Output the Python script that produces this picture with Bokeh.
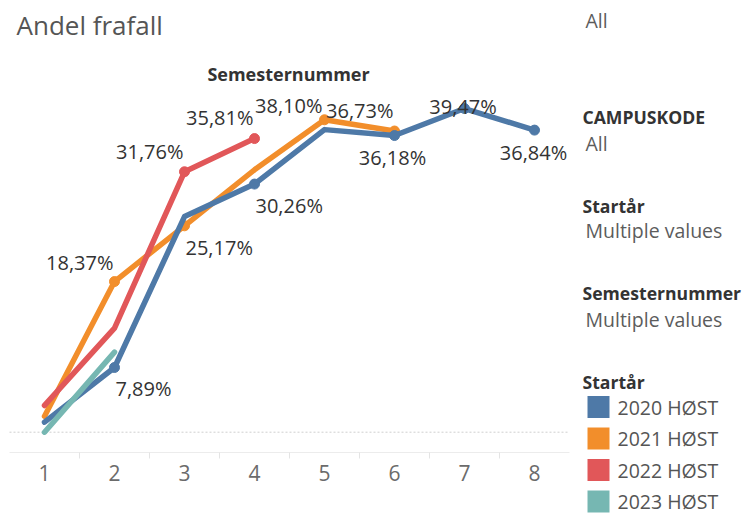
from bokeh.plotting import figure
from bokeh.models import Range1d, FixedTicker, ColumnDataSource
from bokeh.embed import file_html
from bokeh.resources import INLINE
from bokeh.core.properties import value

# ---------------- data ----------------
semesters = [1, 2, 3, 4, 5, 6, 7, 8]
tick_labels = ["1", "2", "3", "4", "5", "6", "7", "8"]
series_names = ["2020 HØST", "2021 HØST", "2022 HØST", "2023 HØST"]
v2020 = [1.22, 7.89, 26.3, 30.26, 36.9, 36.18, 39.47, 36.84]
v2021 = [1.95, 18.37, 25.17, 32.0, 38.10, 36.73]
v2022 = [3.26, 12.7, 31.76, 35.81]
v2023 = [0.0, 9.76]
labeled_2020 = [2, 4, 6, 7, 8]
labeled_2021 = [2, 3, 5, 6]
labeled_2022 = [3, 4]
labeled_2023 = []
filter_titles = ["CAMPUSKODE", "Startår", "Semesternummer"]
filter_values = ["All", "All", "Multiple values", "Multiple values"]
title_text = "Andel frafall"
axis_title = "Semesternummer"
legend_title = "Startår"

# ---------------- style ----------------
colors = ["#4e79a7", "#f28e2b", "#e15759", "#76b7b2"]
FONT = "Open Sans"
# label placement per (series index, semester): (align, dx px, dy px), dy downwards
label_place = {
    (0, 2): ("left", 1, 21), (0, 4): ("left", 1, 21.5), (0, 6): ("center", -2, 22),
    (0, 7): ("center", -1.5, -2), (0, 8): ("center", -1, 22),
    (1, 2): ("right", -1, -19), (1, 3): ("left", 1, 21.5), (1, 5): ("right", -2, -14),
    (1, 6): ("right", -1, -21),
    (2, 3): ("right", -1, -20), (2, 4): ("right", -1, -21),
}

W, H = 743, 514
AXIS_Y = 452                      # canvas y of the category axis line
PX, PY = 70.0, 8.2                # px per semester, px per percent
X_HALF = 9                        # canvas x of semester 0.5
ZERO_Y = 431.7                    # canvas y of 0 %
def sx(px):
    return 0.5 + (px - X_HALF) / PX
def sy(py):
    return (ZERO_Y - py) / PY

p = figure(width=W, height=H, output_backend="svg", toolbar_location=None,
           x_range=Range1d(sx(0), sx(W)), y_range=Range1d(sy(H), sy(0)),
           y_axis_location=None, min_border=0, min_border_left=0,
           min_border_right=0, min_border_top=0, min_border_bottom=0)
p.outline_line_color = None
p.xgrid.visible = False
p.ygrid.visible = False
p.background_fill_color = "white"
p.border_fill_color = "white"

# zero reference line across the category band
p.segment(x0=[semesters[0] - 0.5], y0=[0], x1=[semesters[-1] + 0.5], y1=[0],
          line_color="#cfcfcf", line_width=1, line_dash="2 2")

ax = p.xaxis[0]
ax.fixed_location = sy(AXIS_Y)
ax.bounds = (semesters[0] - 0.5, semesters[-1] + 0.5)
ax.ticker = FixedTicker(ticks=semesters, minor_ticks=[s + 0.5 for s in semesters[:-1]])
ax.major_label_overrides = {s: t for s, t in zip(semesters, tick_labels)}
ax.major_tick_line_color = None
ax.major_tick_in = 0
ax.major_tick_out = 0
ax.minor_tick_in = 0
ax.minor_tick_out = 6
ax.minor_tick_line_color = "#e4e4e4"
ax.axis_line_color = "#ececec"
ax.major_label_text_font = FONT
ax.major_label_text_font_size = "21px"
ax.major_label_text_color = "#6b6b6b"
ax.major_label_standoff = 6

all_values = [v2020, v2021, v2022, v2023]
all_labeled = [labeled_2020, labeled_2021, labeled_2022, labeled_2023]
draw_order = [1, 0, 2, 3]
for i in draw_order:
    vals = all_values[i]
    xs = semesters[:len(vals)]
    p.line(xs, vals, line_width=5.5, line_color=colors[i],
           line_cap="round", line_join="round")
    mx = [s for s in xs if s in all_labeled[i]]
    my = [vals[s - 1] for s in mx]
    if mx:
        p.scatter(mx, my, size=10, color=colors[i])

lab = dict(x=[], y=[], text=[], align=[])
for i, vals in enumerate(all_values):
    for s in all_labeled[i]:
        al, dx, dy = label_place[(i, s)]
        v = vals[s - 1]
        lab["x"].append(s + dx / PX)
        lab["y"].append(v - dy / PY)
        lab["text"].append(f"{v:.2f}".replace(".", ",") + "%")
        lab["align"].append(al)
p.text("x", "y", text="text", text_align="align", text_baseline="middle",
       text_font=value(FONT), text_font_size="20px", text_color="#333333",
       source=ColumnDataSource(lab))

p.text([sx(16)], [sy(24)], text=[title_text], text_align="left",
       text_baseline="middle", text_font=value(FONT),
       text_font_size="26px", text_color="#555555")
p.text([sx(288)], [sy(73)], text=[axis_title], text_align="center",
       text_baseline="middle", text_font=value(FONT), text_font_style="bold",
       text_font_size="18px", text_color="#333333")

# ---------------- right panel (filters + legend) ----------------
head_y = [116, 205, 292]
val_y = [20, 143, 230, 319]
p.text([sx(582)] * len(filter_titles), [sy(y) for y in head_y], text=filter_titles,
       text_align="left", text_baseline="middle", text_font=value(FONT),
       text_font_style="bold", text_font_size="17.6px", text_color="#333333")
p.text([sx(585)] * len(filter_values), [sy(y) for y in val_y], text=filter_values,
       text_align="left", text_baseline="middle", text_font=value(FONT),
       text_font_size="19.5px", text_color="#5c5c5c")

p.text([sx(582)], [sy(381)], text=[legend_title], text_align="left",
       text_baseline="middle", text_font=value(FONT), text_font_style="bold",
       text_font_size="17.6px", text_color="#333333")
ly = [sy(406.5 + 31.5 * k) for k in range(len(series_names))]
p.rect([sx(598)] * len(series_names), ly, width=22 / PX, height=22 / PY,
       fill_color=colors, line_color=None)
p.text([sx(617)] * len(series_names), ly, text=series_names, text_align="left",
       text_baseline="middle", text_font=value(FONT), text_font_size="19.5px",
       text_color="#555555")

open("out.html", "w").write(file_html(p, INLINE))
